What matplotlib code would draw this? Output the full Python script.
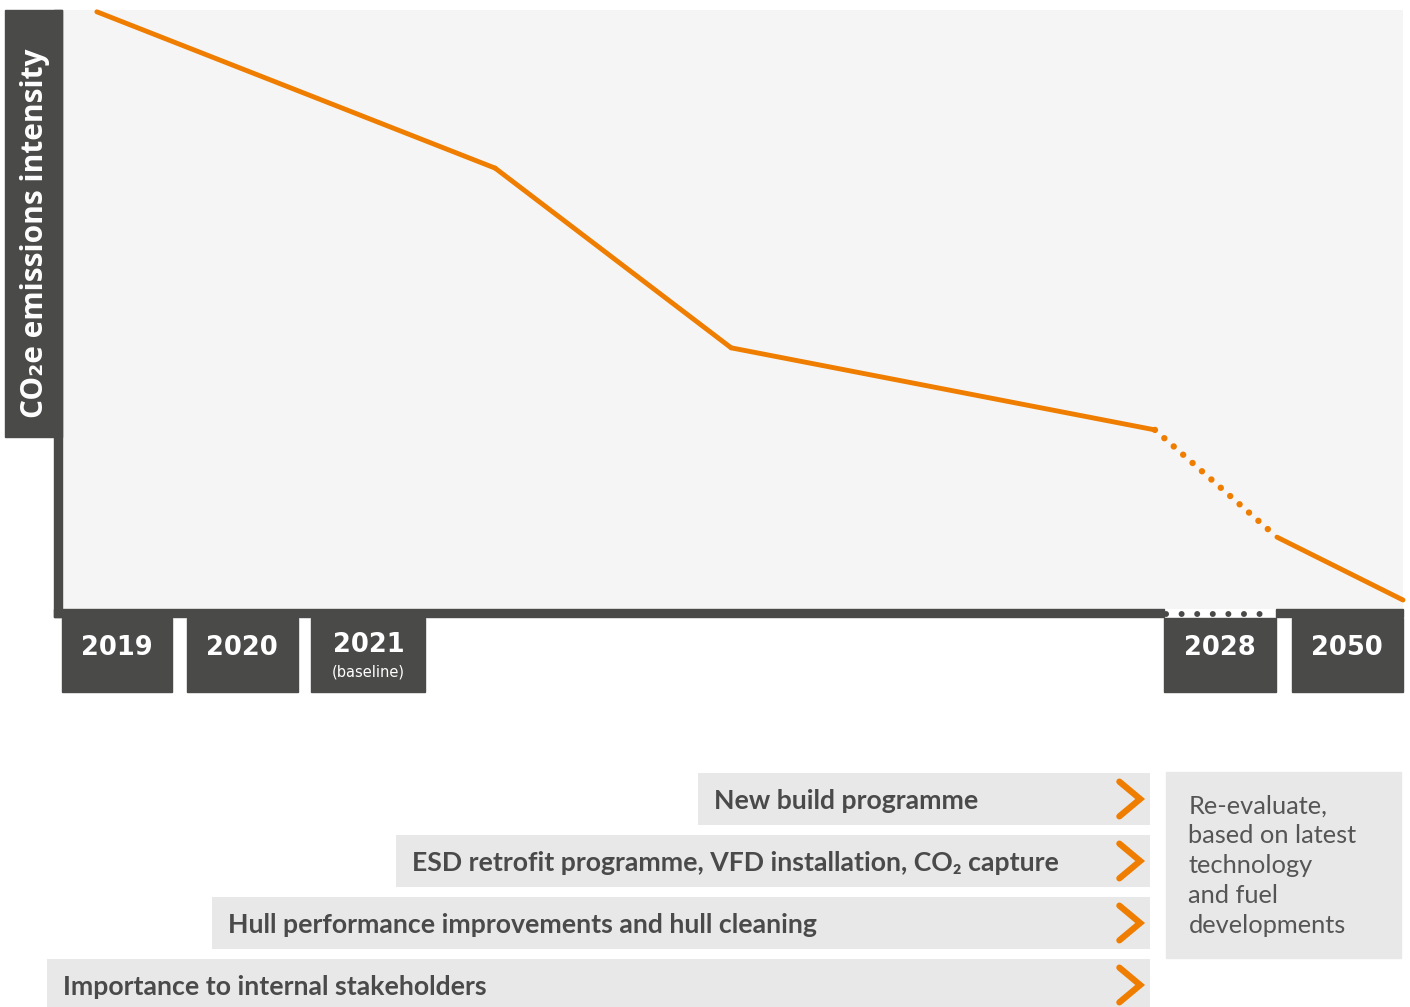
import numpy as np
import matplotlib.pyplot as plt
from matplotlib.patches import Rectangle

# line: position along the timeline (0-100 across the plot) and relative intensity (0-100)
pos = [2.6, 32.3, 49.9, 81.5, 90.6, 100]
intensity = [99.7, 73.6, 43.6, 29.9, 12.0, 1.5]
dotted_seg = 3  # segment from point 3 to point 4 is dotted

years = ['2019', '2020', '2021', '2028', '2050']
year_sub = ['', '', '(baseline)', '', '']
year_left = [0.0, 9.3, 18.6, 82.2, 91.7]
year_right = [8.2, 17.6, 27.1, 90.5, 100.0]

levers = ['New build programme',
          'ESD retrofit programme, VFD installation, CO\u2082 capture',
          'Hull performance improvements and hull cleaning',
          'Importance to internal stakeholders']
lever_start = [47.4, 24.9, 11.2, -1.1]
lever_end = 81.1

note = 'Re-evaluate,\nbased on latest\ntechnology\nand fuel\ndevelopments'

orange = '#ef7d00'
dark = '#4a4a49'
narrow = ['Lato', 'DejaVu Sans']

fig = plt.figure(figsize=(14.1, 10.07), dpi=100)

# main chart
ax = fig.add_axes([62/1410, (1007-609)/1007, 1341/1410, 599/1007])
ax.set_facecolor('#f5f5f5')
ax.set_xlim(0, 100)
ax.set_ylim(0, 100)
ax.set_xticks([])
ax.set_yticks([])
for s in ax.spines.values():
    s.set_visible(False)

for i in range(len(pos) - 1):
    if i == dotted_seg:
        ax.plot(pos[i:i+2], intensity[i:i+2], color=orange, lw=4.6,
                linestyle=(0, (0.01, 1.95)), dash_capstyle='round', clip_on=False)
    else:
        ax.plot(pos[i:i+2], intensity[i:i+2], color=orange, lw=3.5,
                solid_capstyle='round', clip_on=False)

# axis lines
ax.add_patch(Rectangle((-0.6, -1.34), 0.6, 101.34, color=dark, clip_on=False))
ax.add_patch(Rectangle((-0.6, -1.34), year_left[3] + 0.6, 1.34, color=dark, clip_on=False))
ax.add_patch(Rectangle((year_right[3], -1.34), 100 - year_right[3], 1.34, color=dark, clip_on=False))
ax.plot([year_left[3] + 0.1, year_right[3] - 0.1], [-0.83, -0.83], color=dark, lw=4.3,
        linestyle=(0, (0.01, 2.6)), dash_capstyle='round', clip_on=False)

# y label box
ax.add_patch(Rectangle((-4.25, 28.7), 4.25, 71.3, color=dark, clip_on=False))
ax.text(-2.05, 62.8, 'CO\u2082e emissions intensity', rotation=90, ha='center', va='center',
        color='white', fontsize=21.5, fontweight='bold', family=['Open Sans', 'DejaVu Sans'])

# year boxes
for i, yr in enumerate(years):
    ax.add_patch(Rectangle((year_left[i], -13.9), year_right[i] - year_left[i], 12.4,
                           color=dark, clip_on=False))
    xc = (year_left[i] + year_right[i]) / 2
    if year_sub[i]:
        ax.text(xc, -6.0, yr, ha='center', va='center', color='white', fontsize=18.5,
                fontweight='bold')
        ax.text(xc, -10.5, year_sub[i], ha='center', va='center', color='white', fontsize=10.5)
    else:
        ax.text(xc, -6.5, yr, ha='center', va='center', color='white', fontsize=18.5,
                fontweight='bold')

# levers
ax2 = fig.add_axes([62/1410, 0, 1341/1410, 239/1007])
ax2.set_xlim(0, 100)
ax2.set_ylim(3.355, -0.5)
ax2.axis('off')
rows = np.arange(len(levers))
ax2.barh(rows, [lever_end - s for s in lever_start], left=lever_start, height=0.84,
         color='#e8e8e8', clip_on=False)
for r, lab in enumerate(levers):
    ax2.text(lever_start[r] + 1.2, r + 0.03, lab, ha='left', va='center', color='#4a4a4a',
             fontsize=19.2, fontweight='bold', family=narrow)
    ax2.plot([78.85, 80.4, 78.85], [r - 0.28, r, r + 0.28], color=orange, lw=4.5,
             solid_capstyle='round', solid_joinstyle='miter', clip_on=False)

ax2.add_patch(Rectangle((82.3, -0.435), 17.55, 3.0, color='#e8e8e8', clip_on=False))
ax2.text(84.0, -0.07, note, ha='left', va='top', color='#555555', fontsize=18.3,
         linespacing=1.36, family=narrow)

fig.savefig('out.png', dpi=100)
